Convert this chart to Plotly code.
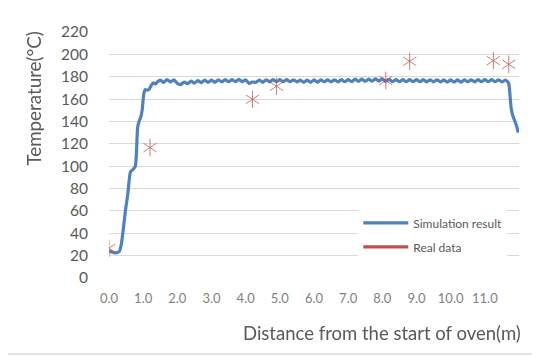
import plotly.graph_objects as go

# Simulation result (distance m, temperature °C)
sim_x = [0.0, 0.1, 0.2, 0.3, 0.36, 0.42, 0.48, 0.55, 0.6, 0.63, 0.7, 0.77, 0.8, 0.84, 0.88, 0.93, 0.97,
         1.02, 1.06, 1.12, 1.18, 1.24, 1.3, 1.36, 1.42,
         1.5, 1.6, 1.7, 1.8, 1.9, 2.0, 2.1, 2.2, 2.3, 2.4, 2.5, 2.6, 2.7, 2.8, 2.9,
         3.0, 3.1, 3.2, 3.3, 3.4, 3.5, 3.6, 3.7, 3.8, 3.9,
         4.0, 4.1, 4.2, 4.3, 4.4, 4.5, 4.6, 4.7, 4.8, 4.9,
         5.0, 5.1, 5.2, 5.3, 5.4, 5.5, 5.6, 5.7, 5.8, 5.9,
         6.0, 6.1, 6.2, 6.3, 6.4, 6.5, 6.6, 6.7, 6.8, 6.9,
         7.0, 7.1, 7.2, 7.3, 7.4, 7.5, 7.6, 7.7, 7.8, 7.9,
         8.0, 8.1, 8.2, 8.3, 8.4, 8.5, 8.6, 8.7, 8.8, 8.9,
         9.0, 9.1, 9.2, 9.3, 9.4, 9.5, 9.6, 9.7, 9.8, 9.9,
         10.0, 10.1, 10.2, 10.3, 10.4, 10.5, 10.6, 10.7, 10.8, 10.9,
         11.0, 11.1, 11.2, 11.3, 11.4, 11.5, 11.6,
         11.65, 11.7, 11.74, 11.77, 11.81, 11.87, 11.93, 11.98]
sim_y = [24.5, 23, 22.5, 23.5, 30, 44, 60, 75, 90, 95, 97, 100, 110, 135, 140, 144, 150,
         165, 168.5, 168, 169, 172.5, 174.5, 173.5, 175.5,
         177, 175, 177.5, 175.3, 177.3, 174, 173, 175.3, 173.7, 176, 174.3, 176.5, 174.7, 177, 175,
         177, 175, 177.3, 175.3, 177.5, 175.5, 177.5, 175.5, 177.7, 175.5,
         177.3, 174, 175.3, 175, 177, 175, 177.3, 175.3, 177.5, 175.5,
         177.5, 175.5, 177.5, 175.5, 177.3, 175.3, 177, 175, 177, 175,
         177.1, 175.1, 177.3, 175.3, 177.3, 175.3, 177.3, 175.3, 177.5, 175.5,
         177.5, 175.5, 177.8, 175.8, 177.8, 175.8, 177.8, 176, 178, 176,
         178, 175.8, 177.7, 175.5, 177.5, 175.5, 177.5, 175.5, 177.5, 175.5,
         177.5, 175.5, 177.5, 175.3, 177.3, 175.3, 177.3, 175.3, 177.1, 175.1,
         177.1, 175.1, 177.1, 175.1, 177.3, 175.3, 177.3, 175.3, 177.5, 175.5,
         177.5, 175.5, 177.5, 175.5, 177.3, 175.3, 177,
         176, 174, 162, 152, 146, 141, 136, 130]

# Real data
real_x = [0.0, 1.2, 4.2, 4.9, 8.1, 8.8, 11.25, 11.7]
real_y = [26.6, 116.6, 159.8, 171.5, 176.6, 193.8, 194.4, 191.1]

x_ticks = [0, 1, 2, 3, 4, 5, 6, 7, 8, 9, 10, 11]
x_tick_labels = ["0.0", "1.0", "2.0", "3.0", "4.0", "5.0", "6.0", "7.0", "8.0", "9.0", "10.0", "11.0"]
y_ticks = [0, 20, 40, 60, 80, 100, 120, 140, 160, 180, 200, 220]

BLUE = "#4F81BD"
RED = "#C0504D"
FONT = "Lato"

fig = go.Figure()
fig.add_trace(go.Scatter(
    x=sim_x, y=sim_y, mode="lines", name="Simulation result",
    line=dict(color=BLUE, width=3.2, shape="spline", smoothing=0.6),
    legendgroup="a",
))
for sym in ["y-up-open", "y-down-open"]:
    fig.add_trace(go.Scatter(
        x=real_x, y=real_y, mode="markers", name="Real data", showlegend=False,
        marker=dict(symbol=sym, size=11, color=RED, line=dict(color=RED, width=1)),
        opacity=0.75, legendgroup="b",
    ))
fig.add_trace(go.Scatter(
    x=[None], y=[None], mode="lines", name="Real data",
    line=dict(color=RED, width=3.2), legendgroup="b",
))

# page body has an 8px margin, so the figure is 8px smaller and shifted
fig.update_layout(
    width=532, height=348,
    margin=dict(l=101, r=21, t=24, b=78, autoexpand=False),
    paper_bgcolor="white", plot_bgcolor="white",
    font=dict(family=FONT, color="#595959"),
    showlegend=True,
    legend=dict(
        x=0.608, y=0.283, xanchor="left", yanchor="top",
        bgcolor="white", borderwidth=0,
        font=dict(family=FONT, size=12, color="#595959"),
        itemwidth=45, traceorder="grouped", tracegroupgap=5,
    ),
    xaxis=dict(
        range=[0, 12], tickvals=x_ticks, ticktext=x_tick_labels,
        showgrid=False, zeroline=False, showline=False, automargin=False,
        ticks="outside", ticklen=8, tickcolor="rgba(0,0,0,0)",
        tickfont=dict(family=FONT, size=13, color="#7F7F7F"),
        fixedrange=True,
    ),
    yaxis=dict(
        range=[0, 220], tickvals=y_ticks, automargin=False,
        showgrid=True, gridcolor="#D9D9D9", gridwidth=1,
        zeroline=False, showline=False,
        ticks="outside", ticklen=17, tickcolor="rgba(0,0,0,0)",
        tickfont=dict(family=FONT, size=15.5, color="#595959"),
        fixedrange=True,
    ),
    annotations=[
        dict(text="Distance from the start of oven(m)", xref="paper", yref="paper",
             x=0.666, y=-0.222, xanchor="center", yanchor="middle", showarrow=False,
             font=dict(family=FONT, size=18.5, color="#595959")),
        dict(text="Temperature(°C)", xref="paper", yref="paper", textangle=-90,
             x=-0.185, y=0.73, xanchor="center", yanchor="middle", showarrow=False,
             font=dict(family=FONT, size=18.8, color="#595959")),
    ],
    shapes=[
        dict(type="rect", xref="paper", yref="paper", x0=-0.248, x1=1.07, y0=-0.309, y1=1.1085,
             line=dict(color="#D9D9D9", width=1.3), fillcolor="rgba(0,0,0,0)", layer="below"),
    ],
)

fig.write_html("out.html")
